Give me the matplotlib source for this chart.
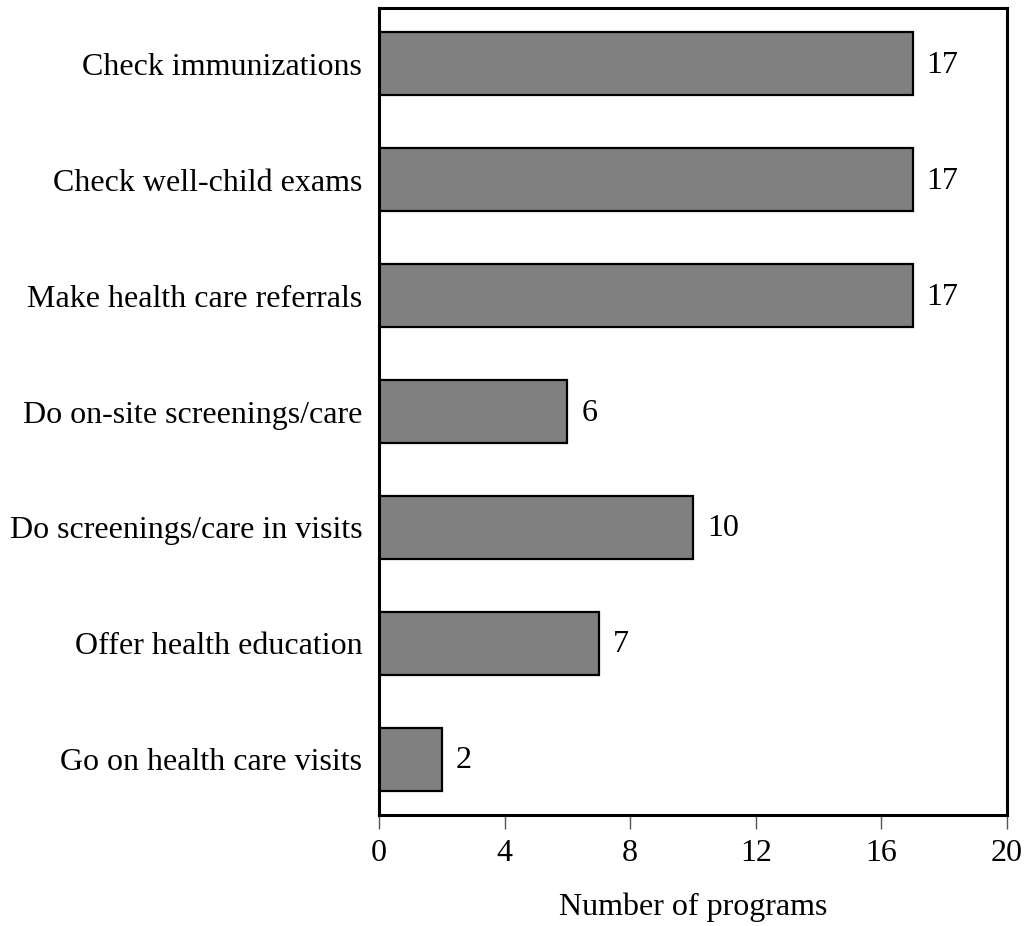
import matplotlib
matplotlib.use("Agg")
import matplotlib.pyplot as plt
import matplotlib.transforms as mtransforms

categories = ["Check immunizations", "Check well-child exams", "Make health care referrals",
              "Do on-site screenings/care", "Do screenings/care in visits",
              "Offer health education", "Go on health care visits"]
values = [17, 17, 17, 6, 10, 7, 2]
xticks = [0, 4, 8, 12, 16, 20]

plt.rcParams['font.family'] = ['Liberation Serif', 'DejaVu Serif']
FS = 23

fig = plt.figure(figsize=(10.29, 9.26), dpi=100)
ax = fig.add_axes([379/1029, 1-815/926, (1007-379)/1029, (815-8)/926])

ypos = list(range(len(categories)))
ax.barh(ypos, values, height=0.54, color='#808080', edgecolor='black', linewidth=1.6)
for y, v in zip(ypos, values):
    ax.annotate(str(v), xy=(v, y), xytext=(10, -6.5), textcoords='offset points',
                va='baseline', ha='left', fontsize=FS)

ax.set_ylim(len(categories) - 0.52, -0.48)
ax.set_xlim(0, 20)
ax.set_xticks(xticks)
ax.set_xticklabels([str(t) for t in xticks], fontsize=FS)
ax.set_yticks(ypos)
ax.set_yticklabels(categories, fontsize=FS)
ax.tick_params(axis='y', length=0, pad=12)
ax.tick_params(axis='x', length=10, width=1, direction='out', pad=7, color='#555555')
for s in ax.spines.values():
    s.set_linewidth(2.2)
ax.set_xlabel("Number of programs", fontsize=FS)
blend = mtransforms.blended_transform_factory(ax.transAxes, fig.transFigure)
ax.xaxis.set_label_coords(0.5, 1 - 915/926, transform=blend)
ax.xaxis.label.set_va('baseline')

fig.savefig("out.png", dpi=100)
